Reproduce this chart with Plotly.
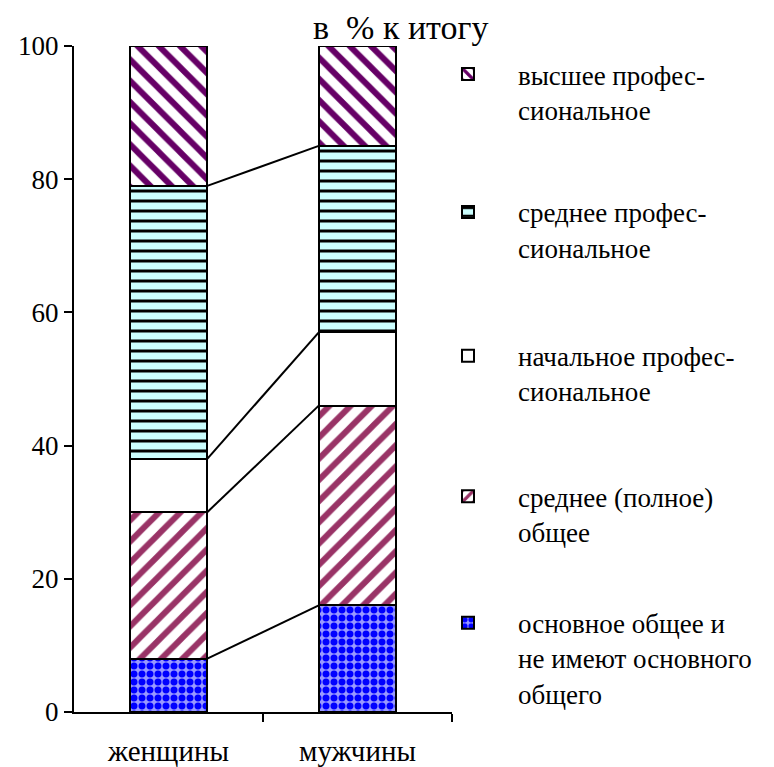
import plotly.graph_objects as go

categories = ["женщины", "мужчины"]
series_names = [
    "основное общее и<br>не имеют основного<br>общего",
    "среднее (полное)<br>общее",
    "начальное профес-<br>сиональное",
    "среднее профес-<br>сиональное",
    "высшее профес-<br>сиональное",
]
women = [8, 22, 8, 41, 21]
men = [16, 30, 11, 28, 15]
y_ticks = [0, 20, 40, 60, 80, 100]

styles = [
    dict(bg="#9999ff", fg="#0000ff", shape=".", size=8, sol=0.6),
    dict(bg="#ffffff", fg="#993366", shape="/", size=15, sol=0.4),
    dict(bg="#ffffff", fg="#ffffff", shape="", size=8, sol=0.3),
    dict(bg="#ccffff", fg="#000000", shape="-", size=10, sol=0.3),
    dict(bg="#ffffff", fg="#660066", shape="\\", size=15, sol=0.4),
]
legend_y = [0.170, 0.360, 0.571, 0.787, 0.994]

BAR_W = 0.41
xs = [0, 1]
FONT = "Liberation Serif"

fig = go.Figure()
for i, name in enumerate(series_names):
    st = styles[i]
    fig.add_trace(go.Bar(
        x=xs, y=[women[i], men[i]], name=name, width=BAR_W,
        marker=dict(color=st["bg"], line=dict(color="black", width=2),
                    pattern=dict(shape=st["shape"], fgcolor=st["fg"], bgcolor=st["bg"],
                                 fgopacity=1, size=st["size"], solidity=st["sol"],
                                 fillmode="overlay")),
        legend="legend" if i == 4 else f"legend{5 - i}",
        hoverinfo="skip",
    ))

# connecting lines between segment boundaries
cw, cm = 0, 0
for i in range(len(women) - 1):
    cw += women[i]
    cm += men[i]
    fig.add_trace(go.Scatter(
        x=[xs[0] + BAR_W / 2, xs[1] - BAR_W / 2], y=[cw, cm], mode="lines",
        line=dict(color="black", width=2), showlegend=False, hoverinfo="skip"))

legend_common = dict(font=dict(family=FONT, size=27, color="black"), bgcolor="rgba(0,0,0,0)",
                     x=0.91, xanchor="left", yanchor="top", valign="top", itemwidth=90,
                     itemclick=False, itemdoubleclick=False)
layout_legends = {}
for i in range(5):
    key = "legend" if i == 4 else f"legend{5 - i}"
    layout_legends[key] = dict(legend_common, y=legend_y[i])

fig.update_layout(
    width=766, height=759,
    margin=dict(l=66, r=322, t=38, b=55, autoexpand=False),
    barmode="stack",
    plot_bgcolor="white", paper_bgcolor="white",
    font=dict(family=FONT, size=27, color="black"),
    showlegend=True,
    **layout_legends,
    xaxis=dict(range=[-0.5, 1.5], tickvals=xs, ticktext=categories, ticks="",
               showline=True, linecolor="black", linewidth=2, showgrid=False, zeroline=False,
               tickfont=dict(size=29), ticklabelstandoff=12, automargin=False,
               minor=dict(tickvals=[0.5, 1.5], ticks="outside", ticklen=8, tickcolor="black",
                          tickwidth=2, showgrid=False)),
    yaxis=dict(range=[0, 100], tickvals=y_ticks, ticks="outside", ticklen=8, tickwidth=2,
               tickcolor="black", showline=True, linecolor="black", linewidth=2,
               showgrid=False, zeroline=False, tickfont=dict(size=27), automargin=False),
    annotations=[dict(text="в  % к итогу", xref="paper", yref="paper",
                      x=0.865, y=1.0285, xanchor="center", yanchor="middle",
                      showarrow=False, font=dict(size=34))],
)
fig.write_html("out.html")
